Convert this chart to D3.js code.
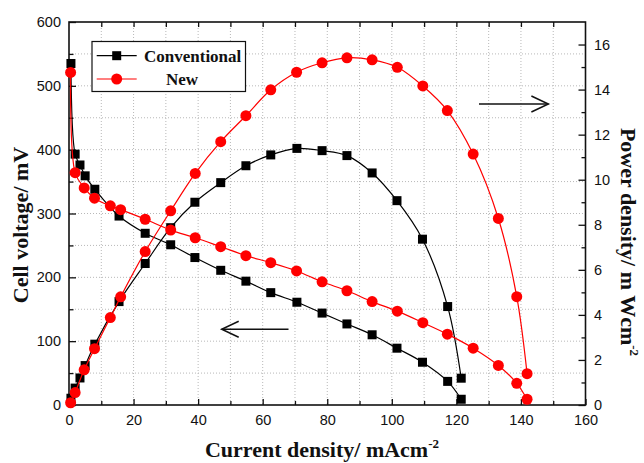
<!DOCTYPE html>
<html>
<head>
    <title>Cell voltage and power density vs current density</title>
    <script src="https://d3js.org/d3.v7.min.js"></script>
    <style>
        body { margin: 0; background: #fff; }
        .tick text { font-family: "Liberation Sans", Arial, sans-serif; font-size: 14.5px; fill: #111; }
        .axis-title { font-family: "Liberation Serif", "Times New Roman", serif; font-weight: bold; font-size: 22px; fill: #111; }
        .legend-text { font-family: "Liberation Serif", "Times New Roman", serif; font-weight: bold; font-size: 17px; fill: #111; }
        .grid line { stroke: #b8b8b8; stroke-width: 1; stroke-dasharray: 1,2; }
    </style>
</head>
<body>
<script>
    // current density (mA/cm2), cell voltage (mV), power density (mW/cm2)
    var convCurrent = [0.6, 1.9, 3.4, 5, 8, 15.5, 23.6, 31.5, 39, 47, 54.8, 62.5, 70.6, 78.4, 86.1, 93.9, 101.6, 109.5, 117.3, 121.5];
    var convVoltage = [535, 393, 376, 359, 338, 296, 269, 251, 231, 211, 194, 176, 161, 144, 127, 110, 89, 67, 37, 9];
    var convPower   = [0.3, 0.75, 1.2, 1.75, 2.7, 4.59, 6.28, 7.87, 9.0, 9.87, 10.62, 11.1, 11.39, 11.29, 11.07, 10.3, 9.07, 7.36, 4.37, 1.19];

    var newCurrent = [0.5, 1.9, 4.7, 7.9, 12.8, 16, 23.6, 31.5, 39.1, 47, 54.8, 62.5, 70.5, 78.4, 86.1, 93.9, 101.7, 109.6, 117.2, 125.2, 133, 138.7, 141.9];
    var newVoltage = [521, 364, 340, 324, 312, 306, 291, 274, 262, 248, 234, 223, 210, 193, 179, 162, 147, 129, 111, 89, 62, 34, 9];
    var newPower   = [0.1, 0.55, 1.56, 2.5, 3.88, 4.8, 6.81, 8.62, 10.28, 11.69, 12.84, 13.99, 14.77, 15.19, 15.41, 15.32, 14.99, 14.16, 13.07, 11.14, 8.28, 4.81, 1.39];

    var seriesNames = ["Conventional", "New"];
    var xTicks = [0, 20, 40, 60, 80, 100, 120, 140, 160];
    var voltageTicks = [0, 100, 200, 300, 400, 500, 600];
    var powerTicks = [0, 2, 4, 6, 8, 10, 12, 14, 16];

    var W = 644, H = 463;
    var plotL = 69, plotR = 585.5, plotT = 22, plotB = 405;

    var x = d3.scaleLinear().domain([0, 160]).range([plotL, plotR]);
    var yV = d3.scaleLinear().domain([0, 600]).range([plotB, plotT]);
    var yP = d3.scaleLinear().domain([0, 17]).range([plotB, plotT]);

    var svg = d3.select("body").append("svg")
        .attr("width", W)
        .attr("height", H);

    // dotted grid
    var grid = svg.append("g").attr("class", "grid");
    grid.selectAll(".gv")
        .data(d3.range(10, 160, 10))
        .enter().append("line")
        .attr("x1", d => x(d)).attr("x2", d => x(d))
        .attr("y1", plotT).attr("y2", plotB);
    grid.selectAll(".gh")
        .data(d3.range(50, 600, 50))
        .enter().append("line")
        .attr("x1", plotL).attr("x2", plotR)
        .attr("y1", d => yV(d)).attr("y2", d => yV(d));

    // axes, ticks pointing inwards
    function styleAxis(g) {
        g.select(".domain").remove();
        g.selectAll(".tick line").attr("stroke", "#111").attr("stroke-width", 1.3);
    }

    svg.append("g").attr("transform", "translate(0," + plotB + ")")
        .call(d3.axisBottom(x).tickValues(xTicks).tickSize(-6).tickPadding(10))
        .call(styleAxis);
    svg.append("g").attr("transform", "translate(0," + plotB + ")")
        .call(d3.axisBottom(x).tickValues(d3.range(10, 160, 20)).tickSize(-4).tickFormat(""))
        .call(styleAxis);
    svg.append("g").attr("transform", "translate(0," + plotT + ")")
        .call(d3.axisTop(x).tickValues(d3.range(10, 160, 10)).tickSize(-5).tickFormat(""))
        .call(styleAxis);

    svg.append("g").attr("transform", "translate(" + plotL + ",0)")
        .call(d3.axisLeft(yV).tickValues(voltageTicks).tickSize(-7).tickPadding(8))
        .call(styleAxis);
    svg.append("g").attr("transform", "translate(" + plotL + ",0)")
        .call(d3.axisLeft(yV).tickValues(d3.range(50, 600, 100)).tickSize(-4.5).tickFormat(""))
        .call(styleAxis);

    svg.append("g").attr("transform", "translate(" + plotR + ",0)")
        .call(d3.axisRight(yP).tickValues(powerTicks).tickSize(-7).tickPadding(8.5))
        .call(styleAxis);
    svg.append("g").attr("transform", "translate(" + plotR + ",0)")
        .call(d3.axisRight(yP).tickValues(d3.range(1, 17, 2)).tickSize(-4).tickFormat(""))
        .call(styleAxis);

    svg.append("rect")
        .attr("x", plotL).attr("y", plotT)
        .attr("width", plotR - plotL).attr("height", plotB - plotT)
        .attr("fill", "none").attr("stroke", "#111").attr("stroke-width", 1.6);

    // series
    function drawSeries(xs, ys, yScale, color, shape) {
        var pts = xs.map((v, i) => [v, ys[i]]);
        var line = d3.line()
            .x(d => x(d[0]))
            .y(d => yScale(d[1]))
            .curve(d3.curveCatmullRom.alpha(0.5));
        svg.append("path")
            .datum(pts)
            .attr("d", line)
            .attr("fill", "none")
            .attr("stroke", color)
            .attr("stroke-width", 1.2);
        if (shape === "square") {
            svg.append("g").selectAll("rect")
                .data(pts).enter().append("rect")
                .attr("x", d => x(d[0]) - 4.5)
                .attr("y", d => yScale(d[1]) - 4.5)
                .attr("width", 9).attr("height", 9)
                .attr("fill", color);
        } else {
            svg.append("g").selectAll("circle")
                .data(pts).enter().append("circle")
                .attr("cx", d => x(d[0]))
                .attr("cy", d => yScale(d[1]))
                .attr("r", 5.5)
                .attr("fill", color);
        }
    }

    drawSeries(convCurrent, convVoltage, yV, "#000", "square");
    drawSeries(convCurrent, convPower, yP, "#000", "square");
    drawSeries(newCurrent, newVoltage, yV, "#ff0000", "circle");
    drawSeries(newCurrent, newPower, yP, "#ff0000", "circle");

    // arrows pointing to the axis each family belongs to
    function arrow(x1, x2, yPix) {
        var dir = x2 > x1 ? 1 : -1;
        var tip = x(x2);
        svg.append("line")
            .attr("x1", x(x1)).attr("x2", tip)
            .attr("y1", yPix).attr("y2", yPix)
            .attr("stroke", "#111").attr("stroke-width", 1.5);
        svg.append("path")
            .attr("d", "M" + (tip - dir * 17) + "," + (yPix - 8) + "L" + tip + "," + yPix + "L" + (tip - dir * 17) + "," + (yPix + 8))
            .attr("fill", "none").attr("stroke", "#111").attr("stroke-width", 1.5);
    }
    arrow(68, 47.3, yV(118.6));
    arrow(127, 148.5, yP(13.36));

    // legend
    var lg = svg.append("g");
    lg.append("rect")
        .attr("x", 92).attr("y", 41.5).attr("width", 153.5).attr("height", 50)
        .attr("fill", "#fff").attr("stroke", "#111").attr("stroke-width", 1.2);
    var rows = [{name: seriesNames[0], color: "#000", shape: "square", y: 55.7, tx: 144},
                {name: seriesNames[1], color: "#ff0000", shape: "circle", y: 79, tx: 166}];
    rows.forEach(function(r) {
        lg.append("line").attr("x1", 96.7).attr("x2", 136.7).attr("y1", r.y).attr("y2", r.y)
            .attr("stroke", r.color).attr("stroke-width", 1.2);
        if (r.shape === "square") {
            lg.append("rect").attr("x", 116.7 - 4.5).attr("y", r.y - 4.5).attr("width", 9).attr("height", 9).attr("fill", r.color);
        } else {
            lg.append("circle").attr("cx", 116.7).attr("cy", r.y).attr("r", 5.5).attr("fill", r.color);
        }
        lg.append("text").attr("class", "legend-text").attr("x", r.tx).attr("y", r.y + 6).text(r.name);
    });

    // axis titles
    var xt = svg.append("text").attr("class", "axis-title")
        .attr("x", 322).attr("y", 457).attr("text-anchor", "middle");
    xt.append("tspan").text("Current density/ mAcm");
    xt.append("tspan").attr("dy", -9).style("font-size", "13px").text("-2");

    svg.append("text").attr("class", "axis-title")
        .attr("transform", "translate(28,225) rotate(-90)")
        .attr("text-anchor", "middle")
        .text("Cell voltage/ mV");

    var pt = svg.append("text").attr("class", "axis-title")
        .attr("transform", "translate(621,242) rotate(90)")
        .attr("text-anchor", "middle");
    pt.append("tspan").text("Power density/ m Wcm");
    pt.append("tspan").attr("dy", -9).style("font-size", "13px").text("-2");
</script>
</body>
</html>
